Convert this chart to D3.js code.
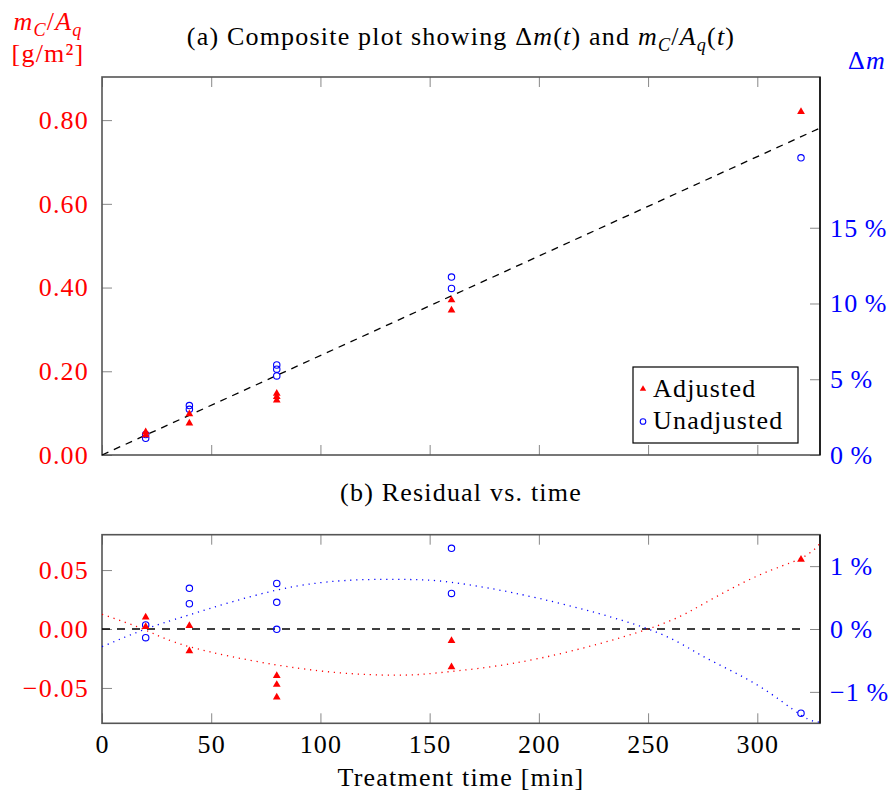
<!DOCTYPE html>
<html>
<head>
<meta charset="utf-8">
<script src="https://cdn.jsdelivr.net/npm/d3@7"></script>
<style>
  body { margin: 0; background: #fff; }
  text { font-family: "Liberation Serif", "DejaVu Serif", serif; letter-spacing: 1.2px; }
</style>
</head>
<body>
<main></main>
<script>
// top panel data
const adjT = [20, 20, 40, 40, 80, 80, 80, 160, 160, 320]
const adjV = [0.055, 0.048, 0.098, 0.076, 0.147, 0.139, 0.131, 0.370, 0.346, 0.820]
const unT = [20, 20, 40, 40, 80, 80, 80, 160, 160, 320]
const unV = [0.049, 0.040, 0.118, 0.109, 0.215, 0.205, 0.189, 0.425, 0.398, 0.710]
const fitT = [0, 328.7]
const fitV = [0, 0.781]

// residual panel data
const resAdjV = [0.0099, 0.002, 0.0028, -0.0186, -0.0396, -0.0472, -0.0579, -0.0099, -0.0322, 0.059]
const resUnV = [0.0034, -0.0074, 0.0345, 0.0214, 0.0387, 0.0226, -0.0003, 0.0684, 0.0302, -0.0714]
const curveT = [0, 20, 40, 80, 115, 140, 160, 200, 250, 275, 300, 320, 328.7]
const redCurveV = [0.0125, -0.001, -0.015, -0.0305, -0.038, -0.039, -0.036, -0.025, 0, 0.021, 0.045, 0.060, 0.0726]
const blueCurveV = [-0.015, 0.0, 0.012, 0.033, 0.0415, 0.042, 0.0396, 0.026, 0, -0.023, -0.0475, -0.073, -0.079]
const zeroT = [0, 320]

// ticks
const xTicks = [0, 50, 100, 150, 200, 250, 300]
const topLeftTicks = [0, 0.2, 0.4, 0.6, 0.8]
const topRightTicks = [0, 5, 10, 15]
const botLeftTicks = [-0.05, 0, 0.05]
const botRightTicks = [-1, 0, 1]

const RED = "#ff0000"
const BLUE = "#0000ff"
const FS = 26

const svg = d3.select("main").append("svg")
    .attr("width", 893)
    .attr("height", 793)

const x = d3.scaleLinear().domain([0, 328.7]).range([102, 820])

const yTop = d3.scaleLinear().domain([0, 0.903]).range([455, 77])
const yTopR = d3.scaleLinear().domain([0, 24.95]).range([455, 77])
const yBot = d3.scaleLinear().domain([-0.08, 0.08]).range([723.3, 534.7])
const yBotR = d3.scaleLinear().domain([-1.5, 1.5]).range([723.3, 534.7])

//write math-ish text with italic parts and subscripts
function mathText(sel, parts) {
    let shift = 0
    parts.forEach(([s, kind]) => {
        let t = sel.append("tspan").text(s)
        if (kind === "i" || kind === "s") t.attr("font-style", "italic")
        if (kind === "s") {
            t.attr("font-size", FS * 0.7).attr("dy", 6 - shift)
            shift = 6
        } else if (shift) {
            t.attr("dy", -shift)
            shift = 0
        }
    })
    return shift
}

function styleAxis(g, color) {
    g.select(".domain").remove()
    g.selectAll("line").attr("stroke", "#888").attr("stroke-width", 1)
    g.selectAll("text")
        .attr("font-family", "Liberation Serif, serif")
        .attr("font-size", FS)
        .attr("fill", color)
}

function panel(yL, yR, leftTicks, rightTicks, leftFmt, rightFmt, showX) {
    let y0 = yL.range()[0], y1 = yL.range()[1]

    svg.append("g").attr("transform", `translate(0,${y0})`)
        .call(d3.axisBottom(x).tickValues(xTicks).tickSize(-10).tickPadding(11)
            .tickFormat(showX ? d3.format("d") : ""))
        .call(g => styleAxis(g, "black"))

    svg.append("g").attr("transform", `translate(0,${y1})`)
        .call(d3.axisTop(x).tickValues(xTicks).tickSize(-10).tickFormat(""))
        .call(g => styleAxis(g, "black"))

    svg.append("g").attr("transform", `translate(102,0)`)
        .call(d3.axisLeft(yL).tickValues(leftTicks).tickSize(-10).tickPadding(13).tickFormat(leftFmt))
        .call(g => styleAxis(g, RED))

    svg.append("g").attr("transform", `translate(820,0)`)
        .call(d3.axisRight(yR).tickValues(rightTicks).tickSize(-10).tickPadding(10).tickFormat(rightFmt))
        .call(g => styleAxis(g, BLUE))

    svg.append("rect")
        .attr("x", 102).attr("y", y1)
        .attr("width", 718).attr("height", y0 - y1)
        .attr("fill", "none").attr("stroke", "#555").attr("stroke-width", 1.6)
    svg.append("line")
        .attr("x1", 820).attr("x2", 820).attr("y1", y1).attr("y2", y0)
        .attr("stroke", "black").attr("stroke-width", 1.4)
}

const pct = d => d3.format("d")(d) + "\u2009%"

panel(yTop, yTopR, topLeftTicks, topRightTicks, d3.format(".2f"), pct, false)
panel(yBot, yBotR, botLeftTicks, botRightTicks, d3.format(".2f"), pct, true)

const tri = d3.symbol().type(d3.symbolTriangle).size(26)

function drawPoints(ts, vs, yS, kind) {
    let data = ts.map((t, i) => [t, vs[i]])
    if (kind === "tri") {
        svg.append("g").selectAll("path").data(data).enter().append("path")
            .attr("d", tri)
            .attr("transform", d => `translate(${x(d[0])},${yS(d[1])})`)
            .attr("fill", RED)
    } else {
        svg.append("g").selectAll("circle").data(data).enter().append("circle")
            .attr("cx", d => x(d[0]))
            .attr("cy", d => yS(d[1]))
            .attr("r", 3.2)
            .attr("fill", "none")
            .attr("stroke", BLUE)
            .attr("stroke-width", 1.1)
    }
}

function drawLine(ts, vs, yS, color, dash, curve) {
    let line = d3.line().x(d => x(d[0])).y(d => yS(d[1])).curve(curve || d3.curveLinear)
    svg.append("path")
        .attr("d", line(ts.map((t, i) => [t, vs[i]])))
        .attr("fill", "none")
        .attr("stroke", color)
        .attr("stroke-width", 1.3)
        .attr("stroke-dasharray", dash)
}

//top panel
drawLine(fitT, fitV, yTop, "black", "7,6")
drawPoints(unT, unV, yTop, "circ")
drawPoints(adjT, adjV, yTop, "tri")

//bottom panel
drawLine(zeroT, [0, 0], yBot, "black", "8,7")
drawLine(curveT, redCurveV, yBot, RED, "1.2,4.8", d3.curveNatural)
drawLine(curveT, blueCurveV, yBot, BLUE, "1.2,4.8", d3.curveNatural)
drawPoints(unT, resUnV, yBot, "circ")
drawPoints(adjT, resAdjV, yBot, "tri")

//legend
let legend = svg.append("g")
legend.append("rect")
    .attr("x", 633).attr("y", 367).attr("width", 165).attr("height", 76)
    .attr("fill", "white").attr("stroke", "black").attr("stroke-width", 1.2)
legend.append("path").attr("d", tri.size(18)).attr("transform", "translate(643,389)").attr("fill", RED)
legend.append("circle").attr("cx", 643).attr("cy", 421.5).attr("r", 2.8)
    .attr("fill", "none").attr("stroke", BLUE).attr("stroke-width", 1.1)
legend.append("text").attr("x", 653).attr("y", 397).attr("font-size", FS).text("Adjusted")
legend.append("text").attr("x", 653).attr("y", 429).attr("font-size", FS).text("Unadjusted")

//titles and labels
let t1 = svg.append("text").attr("x", 461).attr("y", 45).attr("font-size", FS).attr("text-anchor", "middle")
mathText(t1, [["(a) Composite plot showing Δ", "r"], ["m", "i"], ["(", "r"], ["t", "i"], [") and ", "r"],
    ["m", "i"], ["C", "s"], ["/", "r"], ["A", "i"], ["q", "s"], ["(", "r"], ["t", "i"], [")", "r"]])

svg.append("text").attr("x", 461).attr("y", 501).attr("font-size", FS).attr("text-anchor", "middle")
    .text("(b) Residual vs. time")

//left axis label: two lines in one text element
let yl = svg.append("text").attr("x", 48).attr("y", 30).attr("font-size", FS).attr("text-anchor", "middle").attr("fill", RED)
let rest = mathText(yl, [["m", "i"], ["C", "s"], ["/", "r"], ["A", "i"], ["q", "s"]])
yl.append("tspan").attr("x", 48).attr("dy", 32 - rest).text("[g/m²]")

let yr = svg.append("text").attr("x", 848).attr("y", 69).attr("font-size", FS).attr("fill", BLUE)
mathText(yr, [["Δ", "r"], ["m", "i"]])

svg.append("text").attr("x", 461).attr("y", 786).attr("font-size", FS).attr("text-anchor", "middle")
    .text("Treatment time [min]")
</script>
</body>
</html>
